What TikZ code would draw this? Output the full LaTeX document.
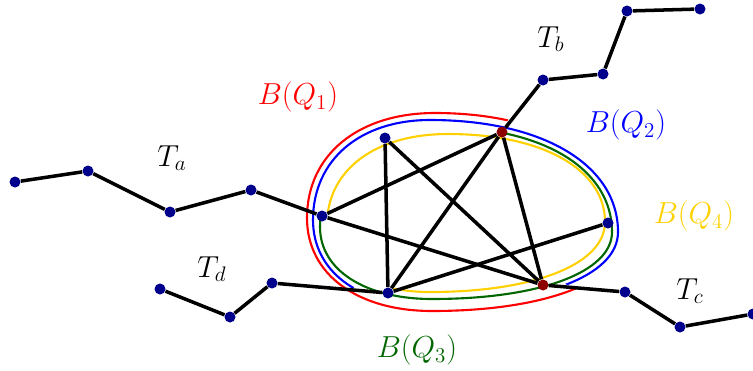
\documentclass[tikz,border=0pt]{standalone}
\usepackage{amsmath}
\usepackage{xcolor}
\usepackage{tikz}
\usetikzlibrary{positioning}
\definecolor{dotblue}{rgb}{0.0,0.0,0.55}
\definecolor{dotred}{rgb}{0.55,0.0,0.0}
\definecolor{bgold}{rgb}{1.0,0.82,0.0}
\definecolor{bgreen}{rgb}{0.0,0.40,0.0}

\begin{document}
\begin{tikzpicture}[
    x=0.02cm, y=0.02cm,
    vtx/.style={circle, fill=dotblue, inner sep=0pt, minimum size=0.22cm},
    rvtx/.style={vtx, fill=dotred},
    edge/.style={line width=2pt, black},
    ball/.style={line width=1.2pt},
    lbl/.style={font=\fontsize{18.5pt}{22pt}\selectfont}
]
\useasboundingbox (0,0) rectangle (753,370);

% the four regions, each open where it meets the branches
\begin{scope}
\clip (466,155) -- ++(66.2:400) arc[start angle=66.2, end angle=326.1, radius=400] -- cycle;
\draw[ball, red] (307,152) .. controls (307,215) and (358,257) .. (435,257)
    .. controls (550,257) and (626,209) .. (626,136)
    .. controls (626,90) and (548,59) .. (432,59)
    .. controls (357,59) and (307,96) .. (307,152);
\end{scope}
\begin{scope}
\clip (466,155) -- ++(-34.7:400) arc[start angle=-34.7, end angle=212.9, radius=400] -- cycle;
\draw[ball, blue] (313,150) .. controls (313,210) and (360,250) .. (430,250)
    .. controls (543,250) and (618,205) .. (618,138)
    .. controls (618,94) and (541,65) .. (425,65)
    .. controls (358,65) and (313,99) .. (313,150);
\end{scope}
\begin{scope}
\clip (466,155) -- ++(180.4:400) arc[start angle=180.4, end angle=426.6, radius=400] -- cycle;
\draw[ball, bgreen] (320,143) .. controls (320,203) and (368,243) .. (440,243)
    .. controls (543,243) and (612,201) .. (612,138)
    .. controls (612,98) and (540,71) .. (432,71)
    .. controls (365,71) and (320,100) .. (320,143);
\end{scope}
\begin{scope}
\clip (466,155) -- ++(225.4:400) arc[start angle=225.4, end angle=538.8, radius=400] -- cycle;
\draw[ball, bgold] (327,145) .. controls (327,200) and (375,236) .. (448,236)
    .. controls (542,236) and (605,201) .. (605,148)
    .. controls (605,106) and (535,78) .. (430,78)
    .. controls (368,78) and (327,105) .. (327,145);
\end{scope}

% clique
\node[vtx] (k1) at (322,154) {};
\node[vtx] (k2) at (385,232) {};
\node[rvtx] (k3) at (502,238) {};
\node[vtx] (k4) at (608,147) {};
\node[rvtx] (k5) at (543,85) {};
\node[vtx] (k6) at (388,77) {};

% branches
\node[vtx] (a1) at (15,188) {};
\node[vtx] (a2) at (88,199) {};
\node[vtx] (a3) at (170,158) {};
\node[vtx] (a4) at (251,180) {};
\node[vtx] (d1) at (160,81) {};
\node[vtx] (d2) at (230,53) {};
\node[vtx] (d3) at (272,87) {};
\node[vtx] (b1) at (543,290) {};
\node[vtx] (b2) at (603,296) {};
\node[vtx] (b3) at (627,359) {};
\node[vtx] (b4) at (700,361) {};
\node[vtx] (c1) at (625,78) {};
\node[vtx] (c2) at (680,43) {};
\node[vtx] (c3) at (753,56) {};

\draw[edge] (k2) -- (k6);
\draw[edge] (k2) -- (k5);
\draw[edge] (k3) -- (k1);
\draw[edge] (k3) -- (k6);
\draw[edge] (k3) -- (k5);
\draw[edge] (k1) -- (k5);
\draw[edge] (k6) -- (k4);

\draw[edge] (a1) -- (a2) -- (a3) -- (a4) -- (k1);
\draw[edge] (d1) -- (d2) -- (d3) -- (k6);
\draw[edge] (k3) -- (b1) -- (b2) -- (b3) -- (b4);
\draw[edge] (k5) -- (c1) -- (c2) -- (c3);

% labels
\node[lbl] (ta) at (172,212) {$T_a$};
\node[lbl] (td) at (212,101) {$T_d$};
\node[lbl] (tb) at (551,331) {$T_b$};
\node[lbl] (tc) at (690,79) {$T_c$};
\node[lbl, text=red] (bq1) at (298,273) {$B(Q_1)$};
\node[lbl, text=blue] (bq2) at (626,245) {$B(Q_2)$};
\node[lbl, text=bgold] (bq4) at (694,154) {$B(Q_4)$};
\node[lbl, text=bgreen] (bq3) at (417,20) {$B(Q_3)$};

\end{tikzpicture}
\end{document}
